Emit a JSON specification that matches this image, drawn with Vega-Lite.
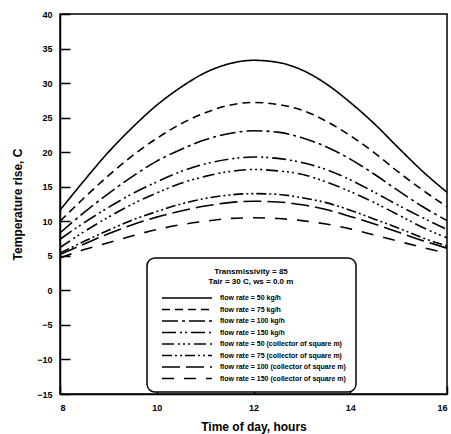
{
  "$schema": "https://vega.github.io/schema/vega-lite/v6.json",
  "width": 387,
  "height": 380,
  "autosize": "none",
  "padding": {"left": 60, "top": 14, "right": 4, "bottom": 40},
  "background": "white",
  "config": {
    "view": {"stroke": "black", "strokeWidth": 1.5},
    "font": "Liberation Sans",
    "axis": {"grid": false, "domainColor": "black", "domainWidth": 1.5, "tickColor": "black", "tickWidth": 1.5, "labelFont": "Liberation Sans", "labelFontWeight": "bold", "labelFontSize": 9, "labelColor": "black", "titleFont": "Liberation Sans", "titleFontWeight": "bold", "titleFontSize": 12, "titleColor": "black"},
    "legend": {"labelFont": "Liberation Sans", "titleFont": "Liberation Sans"}
  },
  "data": {"values": [
    {"t":8,"v":11.6,"s":"r1"},{"t":8.5,"v":15.9,"s":"r1"},{"t":9,"v":20.0,"s":"r1"},{"t":9.5,"v":23.6,"s":"r1"},{"t":10,"v":26.8,"s":"r1"},{"t":10.5,"v":29.4,"s":"r1"},{"t":11,"v":31.5,"s":"r1"},{"t":11.5,"v":32.8,"s":"r1"},{"t":12,"v":33.3,"s":"r1"},{"t":12.5,"v":33.0,"s":"r1"},{"t":13,"v":31.9,"s":"r1"},{"t":13.5,"v":29.9,"s":"r1"},{"t":14,"v":27.2,"s":"r1"},{"t":14.5,"v":24.1,"s":"r1"},{"t":15,"v":20.6,"s":"r1"},{"t":15.5,"v":17.2,"s":"r1"},{"t":16,"v":14.2,"s":"r1"},
    {"t":8,"v":10.0,"s":"r2"},{"t":8.5,"v":13.4,"s":"r2"},{"t":9,"v":16.6,"s":"r2"},{"t":9.5,"v":19.5,"s":"r2"},{"t":10,"v":22.0,"s":"r2"},{"t":10.5,"v":24.1,"s":"r2"},{"t":11,"v":25.7,"s":"r2"},{"t":11.5,"v":26.8,"s":"r2"},{"t":12,"v":27.2,"s":"r2"},{"t":12.5,"v":26.9,"s":"r2"},{"t":13,"v":26.1,"s":"r2"},{"t":13.5,"v":24.5,"s":"r2"},{"t":14,"v":22.4,"s":"r2"},{"t":14.5,"v":19.9,"s":"r2"},{"t":15,"v":17.1,"s":"r2"},{"t":15.5,"v":14.5,"s":"r2"},{"t":16,"v":12.1,"s":"r2"},
    {"t":8,"v":8.3,"s":"r3"},{"t":8.5,"v":11.3,"s":"r3"},{"t":9,"v":14.0,"s":"r3"},{"t":9.5,"v":16.5,"s":"r3"},{"t":10,"v":18.7,"s":"r3"},{"t":10.5,"v":20.4,"s":"r3"},{"t":11,"v":21.8,"s":"r3"},{"t":11.5,"v":22.7,"s":"r3"},{"t":12,"v":23.1,"s":"r3"},{"t":12.5,"v":22.9,"s":"r3"},{"t":13,"v":22.1,"s":"r3"},{"t":13.5,"v":20.8,"s":"r3"},{"t":14,"v":19.0,"s":"r3"},{"t":14.5,"v":16.8,"s":"r3"},{"t":15,"v":14.4,"s":"r3"},{"t":15.5,"v":12.1,"s":"r3"},{"t":16,"v":10.1,"s":"r3"},
    {"t":8,"v":7.4,"s":"r4"},{"t":8.5,"v":9.8,"s":"r4"},{"t":9,"v":12.0,"s":"r4"},{"t":9.5,"v":14.0,"s":"r4"},{"t":10,"v":15.7,"s":"r4"},{"t":10.5,"v":17.2,"s":"r4"},{"t":11,"v":18.3,"s":"r4"},{"t":11.5,"v":19.0,"s":"r4"},{"t":12,"v":19.3,"s":"r4"},{"t":12.5,"v":19.1,"s":"r4"},{"t":13,"v":18.5,"s":"r4"},{"t":13.5,"v":17.5,"s":"r4"},{"t":14,"v":16.0,"s":"r4"},{"t":14.5,"v":14.2,"s":"r4"},{"t":15,"v":12.3,"s":"r4"},{"t":15.5,"v":10.5,"s":"r4"},{"t":16,"v":8.8,"s":"r4"},
    {"t":8,"v":6.2,"s":"r5"},{"t":8.5,"v":8.5,"s":"r5"},{"t":9,"v":10.6,"s":"r5"},{"t":9.5,"v":12.5,"s":"r5"},{"t":10,"v":14.1,"s":"r5"},{"t":10.5,"v":15.5,"s":"r5"},{"t":11,"v":16.5,"s":"r5"},{"t":11.5,"v":17.2,"s":"r5"},{"t":12,"v":17.5,"s":"r5"},{"t":12.5,"v":17.3,"s":"r5"},{"t":13,"v":16.8,"s":"r5"},{"t":13.5,"v":15.7,"s":"r5"},{"t":14,"v":14.3,"s":"r5"},{"t":14.5,"v":12.7,"s":"r5"},{"t":15,"v":10.9,"s":"r5"},{"t":15.5,"v":9.1,"s":"r5"},{"t":16,"v":7.6,"s":"r5"},
    {"t":8,"v":5.4,"s":"r6"},{"t":8.5,"v":7.1,"s":"r6"},{"t":9,"v":8.7,"s":"r6"},{"t":9.5,"v":10.2,"s":"r6"},{"t":10,"v":11.4,"s":"r6"},{"t":10.5,"v":12.5,"s":"r6"},{"t":11,"v":13.3,"s":"r6"},{"t":11.5,"v":13.8,"s":"r6"},{"t":12,"v":14.0,"s":"r6"},{"t":12.5,"v":13.9,"s":"r6"},{"t":13,"v":13.4,"s":"r6"},{"t":13.5,"v":12.7,"s":"r6"},{"t":14,"v":11.6,"s":"r6"},{"t":14.5,"v":10.3,"s":"r6"},{"t":15,"v":9.0,"s":"r6"},{"t":15.5,"v":7.6,"s":"r6"},{"t":16,"v":6.4,"s":"r6"},
    {"t":8,"v":5.2,"s":"r7"},{"t":8.5,"v":6.7,"s":"r7"},{"t":9,"v":8.2,"s":"r7"},{"t":9.5,"v":9.5,"s":"r7"},{"t":10,"v":10.6,"s":"r7"},{"t":10.5,"v":11.5,"s":"r7"},{"t":11,"v":12.2,"s":"r7"},{"t":11.5,"v":12.7,"s":"r7"},{"t":12,"v":12.9,"s":"r7"},{"t":12.5,"v":12.8,"s":"r7"},{"t":13,"v":12.4,"s":"r7"},{"t":13.5,"v":11.7,"s":"r7"},{"t":14,"v":10.7,"s":"r7"},{"t":14.5,"v":9.6,"s":"r7"},{"t":15,"v":8.4,"s":"r7"},{"t":15.5,"v":7.2,"s":"r7"},{"t":16,"v":6.1,"s":"r7"},
    {"t":8,"v":4.7,"s":"r8"},{"t":8.5,"v":5.9,"s":"r8"},{"t":9,"v":6.9,"s":"r8"},{"t":9.5,"v":7.9,"s":"r8"},{"t":10,"v":8.8,"s":"r8"},{"t":10.5,"v":9.5,"s":"r8"},{"t":11,"v":10.0,"s":"r8"},{"t":11.5,"v":10.4,"s":"r8"},{"t":12,"v":10.5,"s":"r8"},{"t":12.5,"v":10.4,"s":"r8"},{"t":13,"v":10.1,"s":"r8"},{"t":13.5,"v":9.6,"s":"r8"},{"t":14,"v":8.9,"s":"r8"},{"t":14.5,"v":8.0,"s":"r8"},{"t":15,"v":7.1,"s":"r8"},{"t":15.5,"v":6.2,"s":"r8"},{"t":16,"v":5.4,"s":"r8"}
  ]},
  "mark": {"type": "line", "color": "black", "strokeWidth": 1.6, "interpolate": "monotone"},
  "encoding": {
    "x": {"field": "t", "type": "quantitative", "scale": {"domain": [8, 16], "nice": false}, "axis": {"values": [8, 10, 12, 14, 16], "tickSize": -8, "labelPadding": 17, "title": "Time of day, hours", "titlePadding": 9}},
    "y": {"field": "v", "type": "quantitative", "scale": {"domain": [-15, 40], "nice": false}, "axis": {"values": [-15, -10, -5, 0, 5, 10, 15, 20, 25, 30, 35, 40], "tickSize": -10, "labelPadding": 18, "title": "Temperature rise, C", "titlePadding": 12}},
    "strokeDash": {
      "field": "s", "type": "nominal",
      "scale": {
        "domain": ["r1", "r2", "r3", "r4", "r5", "r6", "r7", "r8"],
        "range": [[1, 0], [8, 5], [16, 4, 3, 4], [14, 4, 2, 3, 2, 4], [12, 4, 2, 3, 2, 3, 2, 4], [10, 3, 2, 3, 2, 3], [18, 6], [12, 10]]
      },
      "legend": {
        "orient": "none", "legendX": 87, "legendY": 244,
        "title": ["Transmissivity = 85", "Tair = 30 C, ws = 0.0 m"],
        "titleFontSize": 8, "titleFontWeight": "bold", "titleAnchor": "middle", "titleAlign": "center", "titleColor": "black", "titlePadding": 6,
        "labelExpr": "{'r1':'flow rate = 50 kg/h','r2':'flow rate = 75 kg/h','r3':'flow rate = 100 kg/h','r4':'flow rate = 150 kg/h','r5':'flow rate = 50 (collector of square m)','r6':'flow rate = 75 (collector of square m)','r7':'flow rate = 100 (collector of square m)','r8':'flow rate = 150 (collector of square m)'}[datum.value]",
        "labelFontSize": 7, "labelFontWeight": "bold", "labelColor": "black", "labelLimit": 300, "labelOffset": 27,
        "symbolType": "M-5,0H5", "symbolSize": 100, "symbolOffset": 24, "symbolStrokeColor": "black", "symbolStrokeWidth": 1.6, "symbolFillColor": "transparent",
        "rowPadding": 1.5, "fillColor": "white", "strokeColor": "black", "cornerRadius": 8, "padding": 10,
        "encode": {"legend": {"update": {"strokeWidth": {"value": 1.5}}}}
      }
    }
  }
}
